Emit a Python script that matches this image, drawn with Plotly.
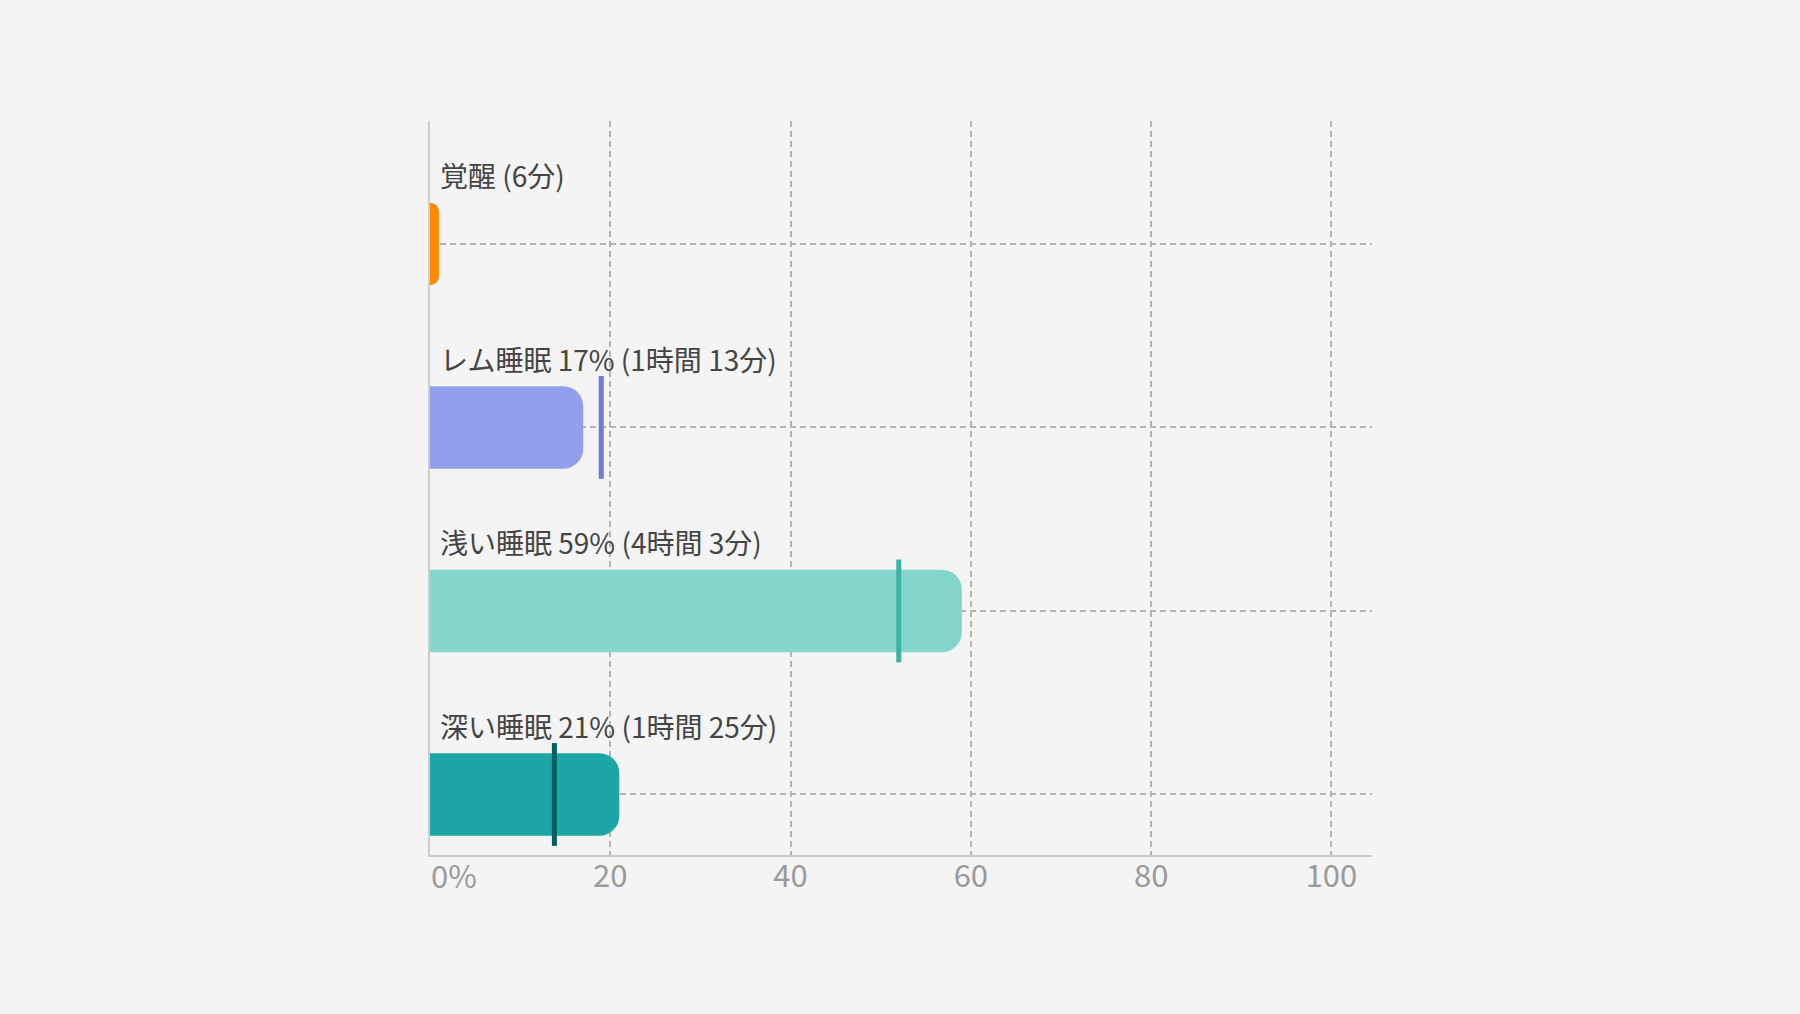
import plotly.graph_objects as go

# sleep stages, top to bottom
stages = ['覚醒', 'レム睡眠', '浅い睡眠', '深い睡眠']
percent = [1, 17, 59, 21]
labels = ['覚醒 (6分)', 'レム睡眠 17% (1時間 13分)',
          '浅い睡眠 59% (4時間 3分)', '深い睡眠 21% (1時間 25分)']
typical = [None, 19, 52, 13.8]
bar_colors = ['#ff8c00', '#919fec', '#84d6cd', '#1ca5a5']
mark_colors = [None, '#6b7bd6', '#3db3a3', '#00605f']
ticks = [0, 20, 40, 60, 80, 100]
tick_text = ['', '20', '40', '60', '80', '100']

pos = list(range(len(stages) - 1, -1, -1))
font = 'Noto Sans CJK JP, Noto Sans, sans-serif'

fig = go.Figure()
fig.add_trace(go.Bar(
    x=percent, y=pos, orientation='h', width=0.45,
    marker=dict(color=bar_colors, line=dict(width=0)),
    hoverinfo='skip'))

for p, m, c in zip(pos, typical, mark_colors):
    if m is None:
        continue
    fig.add_trace(go.Scatter(
        x=[m, m], y=[p - 0.28, p + 0.28], mode='lines',
        line=dict(color=c, width=5), hoverinfo='skip'))

for p, t in zip(pos, labels):
    fig.add_annotation(x=0, y=p + 0.375, text=t, showarrow=False,
                       xanchor='left', yanchor='middle', xshift=8,
                       font=dict(size=28, color='#444444'))

fig.add_annotation(x=0, y=0, xref='x', yref='paper', text='0%', showarrow=False,
                   xanchor='left', yanchor='top', yshift=5, xshift=-1,
                   font=dict(size=31, color='#9a9a9a'))

fig.update_layout(
    width=1800, height=1014,
    paper_bgcolor='#f4f4f4', plot_bgcolor='#f4f4f4',
    font=dict(family=font),
    showlegend=False,
    barcornerradius=20,
    margin=dict(l=430, r=428, t=121, b=159),
    xaxis=dict(range=[0, 104.5], tickvals=ticks, ticktext=tick_text,
               showgrid=True, gridcolor='#b4b4b4', griddash='6px,4px', gridwidth=1.5,
               zeroline=False, showline=True, linecolor='#cccccc', linewidth=1.5,
               ticks='', ticklabelstandoff=-7,
               tickfont=dict(size=31, color='#9a9a9a'), fixedrange=True),
    yaxis=dict(range=[-0.33, 3.67], tickvals=pos, showticklabels=False,
               showgrid=True, gridcolor='#b4b4b4', griddash='6px,4px', gridwidth=1.5,
               zeroline=False, showline=True, linecolor='#cccccc', linewidth=1.5,
               ticks='', fixedrange=True),
)

fig.write_html("out.html", config={'displayModeBar': False},
               post_script="document.body.style.margin='0';")
